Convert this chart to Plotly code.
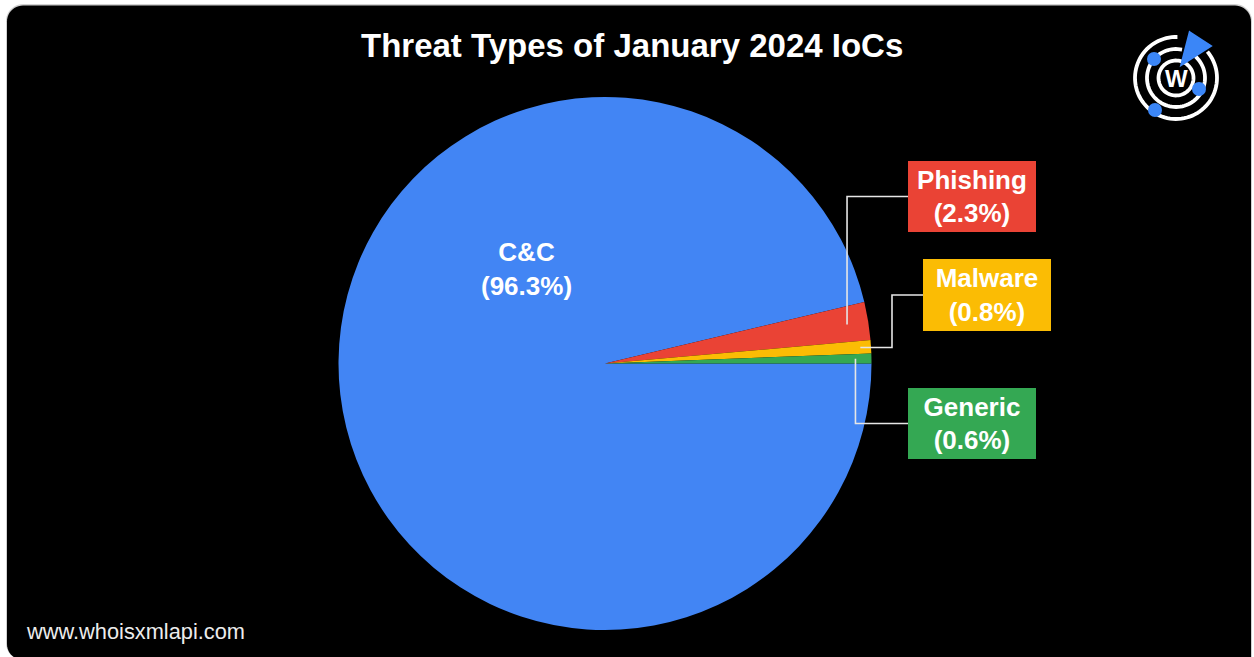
import numpy as np
import plotly.graph_objects as go

# ---- data ----
threat_types = ["C&C", "Phishing", "Malware", "Generic"]
shares = [96.3, 2.3, 0.8, 0.6]
slice_colors = ["#4285F4", "#EA4335", "#FBBC04", "#34A853"]

W, H = 1254, 657
FONT = "Liberation Sans, Arial, Helvetica, sans-serif"

# pie geometry (pixels)
CX, CY, R = 605.0, 363.5, 266.5


def px(x):
    return x / W


def py(y):
    return 1 - y / H


def poly_path(points, close=False):
    s = "M " + " L ".join(f"{px(x):.5f},{py(y):.5f}" for x, y in points)
    return s + (" Z" if close else "")


def arc_points(cx, cy, r, a0, a1, n=60):
    t = np.radians(np.linspace(a0, a1, n))
    return list(zip(cx + r * np.cos(t), cy - r * np.sin(t)))


def rounded_card(x0, y0, x1, y1, r):
    pts = []
    pts += arc_points(x0 + r, y0 + r, r, 180, 90, 12)     # top-left
    pts += arc_points(x1 - r, y0 + r, r, 90, 0, 12)       # top-right
    pts += [(x1, y1)]                                     # bottom-right (square)
    pts += arc_points(x0 + r, y1 - r, r, 270, 180, 12)    # bottom-left
    return poly_path(pts, close=True)


fig = go.Figure()

fig.add_trace(go.Pie(
    labels=threat_types,
    values=shares,
    marker=dict(colors=slice_colors, line=dict(width=0)),
    sort=False,
    direction="clockwise",
    rotation=90,
    textinfo="none",
    hoverinfo="skip",
    showlegend=False,
    domain=dict(x=[px(CX - R), px(CX + R)], y=[py(CY + R), py(CY - R)]),
))

shapes = []
# card shadow + black card
shapes.append(dict(type="path", xref="paper", yref="paper",
                   path=rounded_card(6, 4, 1252, 660, 17),
                   fillcolor="rgba(0,0,0,0.18)", line=dict(width=0), layer="below"))
shapes.append(dict(type="path", xref="paper", yref="paper",
                   path=rounded_card(7, 5.5, 1251, 660, 16),
                   fillcolor="#000000", line=dict(width=0), layer="below"))

# slice mid-angles (degrees, counter-clockwise from 3 o'clock)
mid_angle = {}
acc = 0.0
for name, v in zip(reversed(threat_types), reversed(shares)):
    a = v / sum(shares) * 360
    mid_angle[name] = acc + a / 2
    acc += a


def anchor(name, frac):
    t = np.radians(mid_angle[name])
    return CX + frac * R * np.cos(t), CY - frac * R * np.sin(t)


# outside label boxes: (name, centre x, centre y, width, height, leader anchor radius)
boxes = [
    ("Phishing", 972, 196.5, 128, 71, 0.92),
    ("Malware", 987, 295, 128, 72, 0.96),
    ("Generic", 972, 423.5, 128, 71, 0.94),
]
LINE = dict(color="#e6e6e6", width=1.6)
for name, bx, by, bw, bh, frac in boxes:
    sx, sy = anchor(name, frac)
    left = bx - bw / 2
    if name == "Malware":
        elbow = 892
        pts = [(sx, sy), (elbow, sy), (elbow, by), (left, by)]
    else:
        pts = [(sx, sy), (sx, by), (left, by)]
    shapes.append(dict(type="path", xref="paper", yref="paper",
                       path=poly_path(pts), line=LINE))

# logo: rings, dots and pointer
LX, LY = 1176, 78
for r, gaps in [(41, (40, 88)), (29, (48, 78)), (17.5, None)]:
    if gaps:
        pts = arc_points(LX, LY, r, gaps[1], gaps[0] + 360, 80)
    else:
        pts = arc_points(LX, LY, r, 0, 360, 80)
    shapes.append(dict(type="path", xref="paper", yref="paper",
                       path=poly_path(pts), line=dict(color="white", width=3.8)))
for dx, dy in [(1154, 59), (1199, 89), (1155, 110)]:
    shapes.append(dict(type="circle", xref="paper", yref="paper",
                       x0=px(dx - 7), x1=px(dx + 7), y0=py(dy + 7), y1=py(dy - 7),
                       fillcolor="#3B86F7", line=dict(width=0)))
shapes.append(dict(type="path", xref="paper", yref="paper",
                   path=poly_path([(1190, 33), (1210, 46), (1182, 64)], close=True),
                   fillcolor="#3B86F7", line=dict(color="#3B86F7", width=3)))

annotations = []
annotations.append(dict(
    text="<b>Threat Types of January 2024 IoCs</b>",
    x=px(631.5), y=py(45), xref="paper", yref="paper",
    xanchor="center", yanchor="middle", showarrow=False,
    font=dict(family=FONT, size=33, color="white"),
))
annotations.append(dict(
    text="www.whoisxmlapi.com",
    x=px(24), y=py(631), xref="paper", yref="paper",
    xanchor="left", yanchor="middle", showarrow=False,
    font=dict(family=FONT, size=21.8, color="#ececec"),
))
annotations.append(dict(
    text="<b>W</b>", x=px(LX), y=py(LY + 1), xref="paper", yref="paper",
    xanchor="center", yanchor="middle", showarrow=False,
    font=dict(family=FONT, size=24, color="white"),
))

pct = {n: v for n, v in zip(threat_types, shares)}
annotations.append(dict(
    text=f"<b>C&C</b><br><b>({pct['C&C']:.1f}%)</b>",
    x=px(526), y=py(269), xref="paper", yref="paper",
    xanchor="center", yanchor="middle", showarrow=False,
    font=dict(family=FONT, size=26, color="white"),
))
color_of = dict(zip(threat_types, slice_colors))
for name, bx, by, bw, bh, frac in boxes:
    annotations.append(dict(
        text=f"<b>{name}</b><br><b>({pct[name]:.1f}%)</b>",
        x=px(bx), y=py(by), xref="paper", yref="paper",
        xanchor="center", yanchor="middle", showarrow=False,
        width=bw, height=bh, borderpad=0, borderwidth=0,
        bgcolor=color_of[name], align="center", valign="middle",
        font=dict(family=FONT, size=26, color="white"),
    ))

fig.update_layout(
    width=W, height=H,
    margin=dict(l=0, r=0, t=0, b=0),
    paper_bgcolor="white",
    plot_bgcolor="white",
    shapes=shapes,
    annotations=annotations,
)

fig.write_html("out.html")
